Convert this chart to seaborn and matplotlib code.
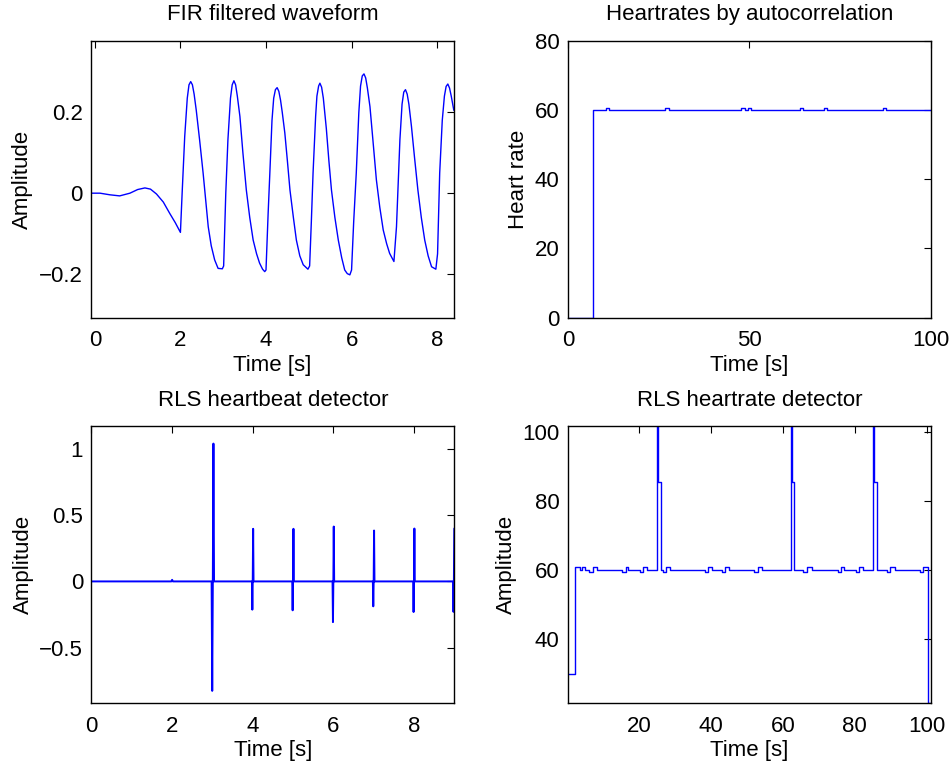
import matplotlib
matplotlib.use("Agg")
import matplotlib.pyplot as plt
import seaborn as sns
import pandas as pd

# ---------------- data ----------------
# FIR filtered waveform
fir_time = [-0.09, 0.12, 0.35, 0.58, 0.82, 1.0, 1.17, 1.3, 1.44, 1.6, 1.75, 1.88, 2.0,
            2.04, 2.10, 2.16, 2.20, 2.24, 2.28, 2.32, 2.37, 2.45, 2.53, 2.65, 2.72, 2.80, 2.88, 2.98,
            3.01, 3.06, 3.11, 3.17, 3.21, 3.25, 3.29, 3.33, 3.39, 3.46, 3.54, 3.62, 3.70, 3.78, 3.85,
            3.92, 3.97, 4.00, 4.05, 4.09, 4.14, 4.18, 4.22, 4.26, 4.30, 4.34, 4.38, 4.44, 4.50, 4.56,
            4.64, 4.71, 4.79, 4.87, 4.98, 5.02, 5.06, 5.10, 5.16, 5.19, 5.23, 5.26, 5.30, 5.34,
            5.41, 5.47, 5.53, 5.61, 5.69, 5.77, 5.84, 5.90, 5.96, 6.00, 6.05, 6.11, 6.17,
            6.21, 6.25, 6.29, 6.33, 6.37, 6.43, 6.50, 6.58, 6.66, 6.74, 6.82, 6.89, 6.99, 7.05, 7.13,
            7.18, 7.22, 7.26, 7.30, 7.34, 7.40, 7.47, 7.55, 7.63, 7.71, 7.79, 7.87, 7.97, 8.01, 8.06,
            8.12, 8.17, 8.21, 8.25, 8.29, 8.33, 8.39]
fir_amp = [0.0, 0.0, -0.004, -0.0067, 0.0, 0.009, 0.013, 0.01, -0.002, -0.022, -0.05, -0.073, -0.097,
           0.0, 0.14, 0.235, 0.268, 0.276, 0.268, 0.245, 0.205, 0.13, 0.05, -0.083, -0.13, -0.165, -0.186, -0.187,
           -0.18, 0.0, 0.132, 0.235, 0.268, 0.278, 0.268, 0.24, 0.19, 0.10, 0.008, -0.06, -0.116, -0.15, -0.173,
           -0.188, -0.194, -0.19, -0.05, 0.05, 0.18, 0.235, 0.256, 0.261, 0.252, 0.23, 0.20, 0.149, 0.08, 0.008,
           -0.06, -0.116, -0.155, -0.177, -0.188, -0.18, -0.07, 0.05, 0.19, 0.24, 0.265, 0.272, 0.262, 0.235,
           0.16, 0.08, 0.008, -0.06, -0.116, -0.16, -0.19, -0.199, -0.202, -0.19, -0.07, 0.05, 0.20,
           0.265, 0.29, 0.295, 0.285, 0.26, 0.214, 0.13, 0.033, -0.035, -0.091, -0.125, -0.149, -0.169, -0.083, 0.132,
           0.22, 0.25, 0.256, 0.245, 0.22, 0.165, 0.09, 0.008, -0.06, -0.116, -0.155, -0.182, -0.188, -0.15, 0.05,
           0.18, 0.24, 0.264, 0.27, 0.26, 0.24, 0.205]

# Heartrates by autocorrelation (step changes)
acorr_time = [0.0, 7.0, 10.5, 11.4, 26.8, 27.7, 47.8, 48.7, 49.6, 50.5, 64.0, 64.9,
              70.6, 71.5, 86.8, 87.7, 100.0]
acorr_rate = [0.0, 60.0, 60.7, 60.0, 60.7, 60.0, 60.7, 60.0, 60.7, 60.0, 60.7, 60.0,
              60.7, 60.0, 60.7, 60.0, 60.0]

# RLS heartbeat detector (spikes)
beat_time = [0.0, 1.98, 2.0, 2.02, 2.98, 2.995, 3.01, 3.025, 3.04,
             3.98, 3.99, 4.0, 4.01, 4.02, 4.98, 4.99, 5.0, 5.01, 5.02,
             5.98, 5.99, 6.0, 6.01, 6.02, 6.98, 6.99, 7.0, 7.01, 7.02,
             7.98, 7.99, 8.0, 8.01, 8.02, 8.97, 8.98, 8.99, 9.0]
beat_amp = [0.0, 0.0, 0.012, 0.0, 0.0, -0.826, 0.0, 1.04, 0.0,
            0.0, -0.213, 0.0, 0.397, 0.0, 0.0, -0.218, 0.0, 0.397, 0.0,
            0.0, -0.307, 0.0, 0.414, 0.0, 0.0, -0.188, 0.0, 0.384, 0.0,
            0.0, -0.231, 0.0, 0.399, 0.0, 0.0, -0.23, 0.0, 0.399]

# RLS heartrate detector (step changes)
rls_time = [0.1, 2.1, 3.3, 3.95, 4.87, 6.08, 6.92, 8.1, 15.1, 16.2, 16.9, 20.2, 21.1, 22.2,
            25.0, 25.3, 26.1, 26.6, 27.5, 28.6, 38.3, 39.2, 40.1, 43.0, 43.9, 45.0,
            52.0, 52.9, 54.1, 62.2, 62.6, 63.1, 65.7, 66.8, 68.0, 75.2, 76.1, 77.0,
            80.4, 81.3, 82.4, 85.1, 85.4, 86.1, 88.9, 89.8, 91.2, 98.2, 99.1, 100.3, 101.2]
rls_rate = [30.0, 60.8, 60.0, 60.8, 60.0, 59.3, 60.8, 60.0, 59.3, 60.8, 60.0, 59.3, 60.8, 60.0,
            101.6, 85.5, 60.0, 59.3, 60.8, 60.0, 59.3, 60.8, 60.0, 59.3, 60.8, 60.0,
            59.3, 60.8, 60.0, 101.6, 85.5, 60.0, 59.3, 60.8, 60.0, 59.3, 60.8, 60.0,
            59.3, 60.8, 60.0, 101.6, 85.5, 60.0, 59.3, 60.8, 60.0, 59.3, 60.8, 21.4, 21.4]

# ---------------- style ----------------
sns.set_style("white")
plt.rcParams["font.family"] = ["Liberation Sans", "DejaVu Sans"]
plt.rcParams["font.size"] = 16
plt.rcParams["axes.linewidth"] = 1.0
plt.rcParams["axes.edgecolor"] = "black"
plt.rcParams["text.color"] = "black"
plt.rcParams["axes.labelcolor"] = "black"
plt.rcParams["axes.titlecolor"] = "black"

fig = plt.figure(figsize=(9.51, 7.63), dpi=100)
W, H = 0.3815, 0.3630
ax_tl = fig.add_axes([0.0957, 0.5836, W, H])
ax_tr = fig.add_axes([0.5973, 0.5836, W, H])
ax_bl = fig.add_axes([0.0962, 0.0782, W, H])
ax_br = fig.add_axes([0.5973, 0.0782, W, H])

line_kw = dict(color=(0, 0, 1), linewidth=1.0, estimator=None, sort=False)

sns.lineplot(data=pd.DataFrame({"t": fir_time, "v": fir_amp}), x="t", y="v", ax=ax_tl, **line_kw)
sns.lineplot(data=pd.DataFrame({"t": acorr_time, "v": acorr_rate}), x="t", y="v", ax=ax_tr,
             drawstyle="steps-post", **line_kw)
sns.lineplot(data=pd.DataFrame({"t": beat_time, "v": beat_amp}), x="t", y="v", ax=ax_bl,
             **{**line_kw, "linewidth": 1.4})
sns.lineplot(data=pd.DataFrame({"t": rls_time, "v": rls_rate}), x="t", y="v", ax=ax_br,
             drawstyle="steps-post", **line_kw)

ax_tl.set(xlim=(-0.09, 8.39), ylim=(-0.308, 0.377), xticks=[0, 2, 4, 6, 8], yticks=[-0.2, 0, 0.2])
ax_tl.set_yticklabels(["\u22120.2", "0", "0.2"])
ax_tr.set(xlim=(0, 100), ylim=(0, 80), xticks=[0, 50, 100], yticks=[0, 20, 40, 60, 80])
ax_bl.set(xlim=(0, 9), ylim=(-0.92, 1.17), xticks=[0, 2, 4, 6, 8], yticks=[-0.5, 0, 0.5, 1])
ax_bl.set_yticklabels(["\u22120.5", "0", "0.5", "1"])
ax_br.set(xlim=(0.1, 101.2), ylim=(21.4, 101.6), xticks=[20, 40, 60, 80, 100], yticks=[40, 60, 80, 100])

titles = ["FIR filtered waveform", "Heartrates by autocorrelation",
          "RLS heartbeat detector", "RLS heartrate detector"]
ylabels = ["Amplitude", "Heart rate", "Amplitude", "Amplitude"]
for ax, ttl, yl in zip([ax_tl, ax_tr, ax_bl, ax_br], titles, ylabels):
    ax.set_title(ttl, fontsize=16, pad=15, color="black")
    ax.set_xlabel("Time [s]", fontsize=16, labelpad=2.5, color="black")
    ax.set_ylabel(yl, fontsize=16, labelpad=4, color="black")
    ax.tick_params(axis="both", which="both", direction="in", top=True, right=True,
                   length=5, width=0.8, labelsize=16, colors="black")
    ax.tick_params(axis="x", pad=9)
    ax.tick_params(axis="y", pad=6)
    for s in ax.spines.values():
        s.set_visible(True)
        s.set_color("black")
        s.set_linewidth(1.0)

fig.savefig("out.png", dpi=100, facecolor="white")
